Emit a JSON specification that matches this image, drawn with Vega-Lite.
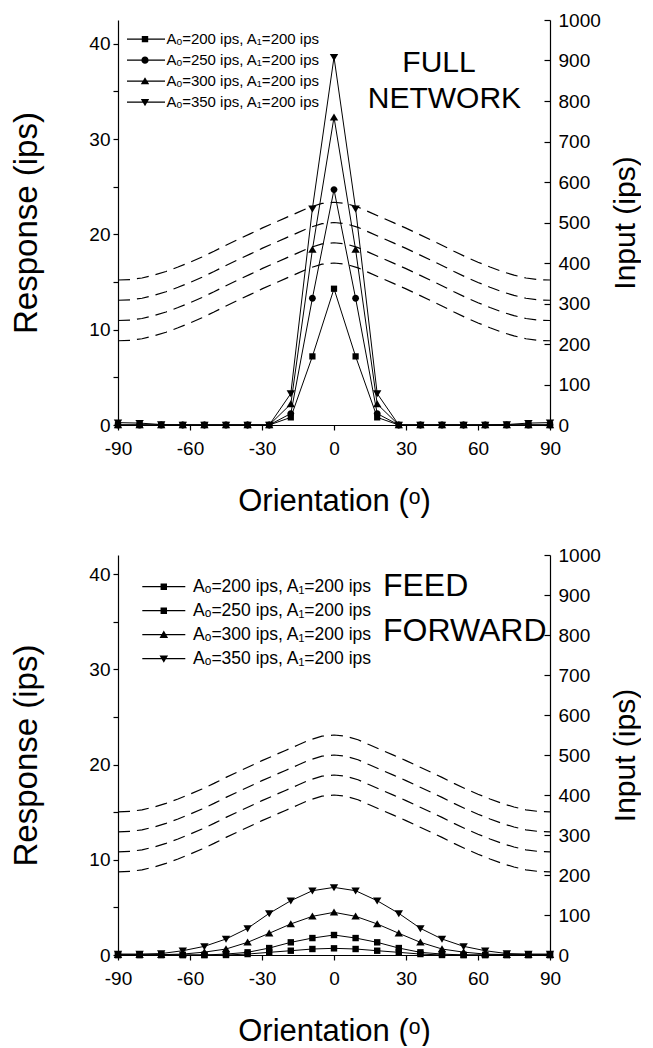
{
  "$schema": "https://vega.github.io/schema/vega-lite/v6.json",
  "padding": {"left": 10, "top": 11, "right": 0, "bottom": 0},
  "spacing": 30,
  "config": {
    "font": "Liberation Sans",
    "view": {"stroke": null},
    "axis": {"grid": false, "domainColor": "black", "tickColor": "black", "labelColor": "black", "titleColor": "black", "labelFont": "Liberation Sans", "titleFont": "Liberation Sans", "labelFontSize": 19, "titleFontSize": 31, "titleFontWeight": "normal", "domainWidth": 1.2, "tickWidth": 1.2, "labelFlush": false, "labelOverlap": false},
    "legend": {"labelFont": "Liberation Sans", "labelColor": "black", "labelLimit": 400}
  },
  "datasets": {
    "input": [
      {"t":-90,"s":"200","v":208},{"t":-85,"s":"200","v":209},{"t":-80,"s":"200","v":213},{"t":-75,"s":"200","v":220},{"t":-70,"s":"200","v":229},{"t":-65,"s":"200","v":240},{"t":-60,"s":"200","v":252},{"t":-55,"s":"200","v":265},{"t":-50,"s":"200","v":279},{"t":-45,"s":"200","v":294},{"t":-40,"s":"200","v":308},{"t":-35,"s":"200","v":322},{"t":-30,"s":"200","v":336},{"t":-25,"s":"200","v":349},{"t":-20,"s":"200","v":362},{"t":-15,"s":"200","v":375},{"t":-10,"s":"200","v":388},{"t":-5,"s":"200","v":397},{"t":0,"s":"200","v":400},{"t":5,"s":"200","v":397},{"t":10,"s":"200","v":388},{"t":15,"s":"200","v":375},{"t":20,"s":"200","v":362},{"t":25,"s":"200","v":349},{"t":30,"s":"200","v":336},{"t":35,"s":"200","v":322},{"t":40,"s":"200","v":308},{"t":45,"s":"200","v":294},{"t":50,"s":"200","v":279},{"t":55,"s":"200","v":265},{"t":60,"s":"200","v":252},{"t":65,"s":"200","v":240},{"t":70,"s":"200","v":229},{"t":75,"s":"200","v":220},{"t":80,"s":"200","v":213},{"t":85,"s":"200","v":209},{"t":90,"s":"200","v":208},
      {"t":-90,"s":"250","v":258},{"t":-85,"s":"250","v":259},{"t":-80,"s":"250","v":263},{"t":-75,"s":"250","v":270},{"t":-70,"s":"250","v":279},{"t":-65,"s":"250","v":290},{"t":-60,"s":"250","v":302},{"t":-55,"s":"250","v":315},{"t":-50,"s":"250","v":329},{"t":-45,"s":"250","v":344},{"t":-40,"s":"250","v":358},{"t":-35,"s":"250","v":372},{"t":-30,"s":"250","v":386},{"t":-25,"s":"250","v":399},{"t":-20,"s":"250","v":412},{"t":-15,"s":"250","v":425},{"t":-10,"s":"250","v":438},{"t":-5,"s":"250","v":447},{"t":0,"s":"250","v":450},{"t":5,"s":"250","v":447},{"t":10,"s":"250","v":438},{"t":15,"s":"250","v":425},{"t":20,"s":"250","v":412},{"t":25,"s":"250","v":399},{"t":30,"s":"250","v":386},{"t":35,"s":"250","v":372},{"t":40,"s":"250","v":358},{"t":45,"s":"250","v":344},{"t":50,"s":"250","v":329},{"t":55,"s":"250","v":315},{"t":60,"s":"250","v":302},{"t":65,"s":"250","v":290},{"t":70,"s":"250","v":279},{"t":75,"s":"250","v":270},{"t":80,"s":"250","v":263},{"t":85,"s":"250","v":259},{"t":90,"s":"250","v":258},
      {"t":-90,"s":"300","v":308},{"t":-85,"s":"300","v":309},{"t":-80,"s":"300","v":313},{"t":-75,"s":"300","v":320},{"t":-70,"s":"300","v":329},{"t":-65,"s":"300","v":340},{"t":-60,"s":"300","v":352},{"t":-55,"s":"300","v":365},{"t":-50,"s":"300","v":379},{"t":-45,"s":"300","v":394},{"t":-40,"s":"300","v":408},{"t":-35,"s":"300","v":422},{"t":-30,"s":"300","v":436},{"t":-25,"s":"300","v":449},{"t":-20,"s":"300","v":462},{"t":-15,"s":"300","v":475},{"t":-10,"s":"300","v":488},{"t":-5,"s":"300","v":497},{"t":0,"s":"300","v":500},{"t":5,"s":"300","v":497},{"t":10,"s":"300","v":488},{"t":15,"s":"300","v":475},{"t":20,"s":"300","v":462},{"t":25,"s":"300","v":449},{"t":30,"s":"300","v":436},{"t":35,"s":"300","v":422},{"t":40,"s":"300","v":408},{"t":45,"s":"300","v":394},{"t":50,"s":"300","v":379},{"t":55,"s":"300","v":365},{"t":60,"s":"300","v":352},{"t":65,"s":"300","v":340},{"t":70,"s":"300","v":329},{"t":75,"s":"300","v":320},{"t":80,"s":"300","v":313},{"t":85,"s":"300","v":309},{"t":90,"s":"300","v":308},
      {"t":-90,"s":"350","v":358},{"t":-85,"s":"350","v":359},{"t":-80,"s":"350","v":363},{"t":-75,"s":"350","v":370},{"t":-70,"s":"350","v":379},{"t":-65,"s":"350","v":390},{"t":-60,"s":"350","v":402},{"t":-55,"s":"350","v":415},{"t":-50,"s":"350","v":429},{"t":-45,"s":"350","v":444},{"t":-40,"s":"350","v":458},{"t":-35,"s":"350","v":472},{"t":-30,"s":"350","v":486},{"t":-25,"s":"350","v":499},{"t":-20,"s":"350","v":512},{"t":-15,"s":"350","v":525},{"t":-10,"s":"350","v":538},{"t":-5,"s":"350","v":547},{"t":0,"s":"350","v":550},{"t":5,"s":"350","v":547},{"t":10,"s":"350","v":538},{"t":15,"s":"350","v":525},{"t":20,"s":"350","v":512},{"t":25,"s":"350","v":499},{"t":30,"s":"350","v":486},{"t":35,"s":"350","v":472},{"t":40,"s":"350","v":458},{"t":45,"s":"350","v":444},{"t":50,"s":"350","v":429},{"t":55,"s":"350","v":415},{"t":60,"s":"350","v":402},{"t":65,"s":"350","v":390},{"t":70,"s":"350","v":379},{"t":75,"s":"350","v":370},{"t":80,"s":"350","v":363},{"t":85,"s":"350","v":359},{"t":90,"s":"350","v":358}
    ],
    "full": [
      {"t":-90,"s":"200","r":0},{"t":-81,"s":"200","r":0},{"t":-72,"s":"200","r":0},{"t":-63,"s":"200","r":0},{"t":-54,"s":"200","r":0},{"t":-45,"s":"200","r":0},{"t":-36,"s":"200","r":0},{"t":-27,"s":"200","r":0},{"t":-18,"s":"200","r":0.8},{"t":-9,"s":"200","r":7.2},{"t":0,"s":"200","r":14.3},{"t":9,"s":"200","r":7.2},{"t":18,"s":"200","r":0.8},{"t":27,"s":"200","r":0},{"t":36,"s":"200","r":0},{"t":45,"s":"200","r":0},{"t":54,"s":"200","r":0},{"t":63,"s":"200","r":0},{"t":72,"s":"200","r":0},{"t":81,"s":"200","r":0},{"t":90,"s":"200","r":0},
      {"t":-90,"s":"250","r":0},{"t":-81,"s":"250","r":0},{"t":-72,"s":"250","r":0},{"t":-63,"s":"250","r":0},{"t":-54,"s":"250","r":0},{"t":-45,"s":"250","r":0},{"t":-36,"s":"250","r":0},{"t":-27,"s":"250","r":0},{"t":-18,"s":"250","r":1.2},{"t":-9,"s":"250","r":13.3},{"t":0,"s":"250","r":24.7},{"t":9,"s":"250","r":13.3},{"t":18,"s":"250","r":1.2},{"t":27,"s":"250","r":0},{"t":36,"s":"250","r":0},{"t":45,"s":"250","r":0},{"t":54,"s":"250","r":0},{"t":63,"s":"250","r":0},{"t":72,"s":"250","r":0},{"t":81,"s":"250","r":0},{"t":90,"s":"250","r":0},
      {"t":-90,"s":"300","r":0},{"t":-81,"s":"300","r":0},{"t":-72,"s":"300","r":0},{"t":-63,"s":"300","r":0},{"t":-54,"s":"300","r":0},{"t":-45,"s":"300","r":0},{"t":-36,"s":"300","r":0},{"t":-27,"s":"300","r":0},{"t":-18,"s":"300","r":2.2},{"t":-9,"s":"300","r":18.4},{"t":0,"s":"300","r":32.3},{"t":9,"s":"300","r":18.4},{"t":18,"s":"300","r":2.2},{"t":27,"s":"300","r":0},{"t":36,"s":"300","r":0},{"t":45,"s":"300","r":0},{"t":54,"s":"300","r":0},{"t":63,"s":"300","r":0},{"t":72,"s":"300","r":0},{"t":81,"s":"300","r":0},{"t":90,"s":"300","r":0},
      {"t":-90,"s":"350","r":0.25},{"t":-81,"s":"350","r":0.2},{"t":-72,"s":"350","r":0.05},{"t":-63,"s":"350","r":0},{"t":-54,"s":"350","r":0},{"t":-45,"s":"350","r":0},{"t":-36,"s":"350","r":0},{"t":-27,"s":"350","r":0},{"t":-18,"s":"350","r":3.3},{"t":-9,"s":"350","r":22.7},{"t":0,"s":"350","r":38.6},{"t":9,"s":"350","r":22.7},{"t":18,"s":"350","r":3.3},{"t":27,"s":"350","r":0},{"t":36,"s":"350","r":0},{"t":45,"s":"350","r":0},{"t":54,"s":"350","r":0},{"t":63,"s":"350","r":0},{"t":72,"s":"350","r":0.05},{"t":81,"s":"350","r":0.2},{"t":90,"s":"350","r":0.25}
    ],
    "ff": [
      {"t":-90,"s":"200","r":0},{"t":-81,"s":"200","r":0},{"t":-72,"s":"200","r":0},{"t":-63,"s":"200","r":0},{"t":-54,"s":"200","r":0},{"t":-45,"s":"200","r":0},{"t":-36,"s":"200","r":0.1},{"t":-27,"s":"200","r":0.28},{"t":-18,"s":"200","r":0.45},{"t":-9,"s":"200","r":0.63},{"t":0,"s":"200","r":0.7},{"t":9,"s":"200","r":0.63},{"t":18,"s":"200","r":0.45},{"t":27,"s":"200","r":0.28},{"t":36,"s":"200","r":0.1},{"t":45,"s":"200","r":0},{"t":54,"s":"200","r":0},{"t":63,"s":"200","r":0},{"t":72,"s":"200","r":0},{"t":81,"s":"200","r":0},{"t":90,"s":"200","r":0},
      {"t":-90,"s":"250","r":0},{"t":-81,"s":"250","r":0},{"t":-72,"s":"250","r":0},{"t":-63,"s":"250","r":0},{"t":-54,"s":"250","r":0},{"t":-45,"s":"250","r":0.1},{"t":-36,"s":"250","r":0.28},{"t":-27,"s":"250","r":0.73},{"t":-18,"s":"250","r":1.33},{"t":-9,"s":"250","r":1.78},{"t":0,"s":"250","r":2.1},{"t":9,"s":"250","r":1.78},{"t":18,"s":"250","r":1.33},{"t":27,"s":"250","r":0.73},{"t":36,"s":"250","r":0.28},{"t":45,"s":"250","r":0.1},{"t":54,"s":"250","r":0},{"t":63,"s":"250","r":0},{"t":72,"s":"250","r":0},{"t":81,"s":"250","r":0},{"t":90,"s":"250","r":0},
      {"t":-90,"s":"300","r":0.03},{"t":-81,"s":"300","r":0.03},{"t":-72,"s":"300","r":0.03},{"t":-63,"s":"300","r":0.1},{"t":-54,"s":"300","r":0.3},{"t":-45,"s":"300","r":0.63},{"t":-36,"s":"300","r":1.33},{"t":-27,"s":"300","r":2.28},{"t":-18,"s":"300","r":3.26},{"t":-9,"s":"300","r":4.06},{"t":0,"s":"300","r":4.48},{"t":9,"s":"300","r":4.06},{"t":18,"s":"300","r":3.26},{"t":27,"s":"300","r":2.28},{"t":36,"s":"300","r":1.33},{"t":45,"s":"300","r":0.63},{"t":54,"s":"300","r":0.3},{"t":63,"s":"300","r":0.1},{"t":72,"s":"300","r":0.03},{"t":81,"s":"300","r":0.03},{"t":90,"s":"300","r":0.03},
      {"t":-90,"s":"350","r":0.1},{"t":-81,"s":"350","r":0.1},{"t":-72,"s":"350","r":0.15},{"t":-63,"s":"350","r":0.45},{"t":-54,"s":"350","r":0.91},{"t":-45,"s":"350","r":1.68},{"t":-36,"s":"350","r":2.8},{"t":-27,"s":"350","r":4.37},{"t":-18,"s":"350","r":5.7},{"t":-9,"s":"350","r":6.75},{"t":0,"s":"350","r":7.1},{"t":9,"s":"350","r":6.75},{"t":18,"s":"350","r":5.7},{"t":27,"s":"350","r":4.37},{"t":36,"s":"350","r":2.8},{"t":45,"s":"350","r":1.68},{"t":54,"s":"350","r":0.91},{"t":63,"s":"350","r":0.45},{"t":72,"s":"350","r":0.15},{"t":81,"s":"350","r":0.1},{"t":90,"s":"350","r":0.1}
    ]
  },
  "vconcat": [
    {
      "width": 432,
      "height": 405,
      "layer": [
        {
          "data": {"name": "input"},
          "mark": {"type": "line", "color": "black", "strokeWidth": 1.2, "strokeDash": [12, 7]},
          "encoding": {
            "x": {"field": "t", "type": "quantitative", "scale": {"domain": [-90, 90], "nice": false}, "axis": {"values": [-90, -60, -30, 0, 30, 60, 90], "labelExpr": "'' + datum.value", "tickSize": 5, "labelPadding": 9, "title": "Orientation (ᵒ)", "titlePadding": 28}},
            "y": {"field": "v", "type": "quantitative", "scale": {"domain": [0, 1000], "nice": false}, "axis": {"orient": "right", "values": [0, 100, 200, 300, 400, 500, 600, 700, 800, 900, 1000], "format": "d", "tickSize": -6, "labelPadding": 14, "title": "Input (ips)", "titleFontSize": 30, "titleAngle": 270, "titleBaseline": "top", "titlePadding": 10}},
            "detail": {"field": "s"}
          }
        },
        {
          "data": {"name": "full"},
          "mark": {"type": "line", "color": "black", "strokeWidth": 1},
          "encoding": {
            "x": {"field": "t", "type": "quantitative", "title": "Orientation (ᵒ)", "scale": {"domain": [-90, 90], "nice": false}},
            "y": {"field": "r", "type": "quantitative", "scale": {"domain": [0, 42.5], "nice": false, "zero": false}, "axis": {"orient": "left", "values": [0, 5, 10, 15, 20, 25, 30, 35, 40], "labelExpr": "datum.value % 10 == 0 ? datum.label : ''", "tickSize": 5, "labelPadding": 3, "title": "Response (ips)", "titleFontSize": 33, "titlePadding": 45}},
            "detail": {"field": "s"}
          }
        },
        {
          "data": {"name": "full"},
          "mark": {"type": "point", "filled": true, "color": "black", "opacity": 1, "size": 64},
          "encoding": {
            "x": {"field": "t", "type": "quantitative", "title": "Orientation (ᵒ)", "scale": {"domain": [-90, 90], "nice": false}},
            "y": {"field": "r", "type": "quantitative", "scale": {"domain": [0, 42.5], "nice": false, "zero": false}, "axis": null},
            "shape": {"field": "s", "type": "nominal", "scale": {"domain": ["200", "250", "300", "350"], "range": ["M-0.78,-0.78H0.78V0.78H-0.78Z", "M-0.85,0A0.85,0.85,0,1,1,0.85,0A0.85,0.85,0,1,1,-0.85,0Z", "M0,-0.95L1.05,0.8L-1.05,0.8Z", "M0,0.95L-1.05,-0.8L1.05,-0.8Z"]}, "legend": null}
          }
        },
        {
          "data": {"name": "full"},
          "mark": {"type": "point", "filled": true, "color": "black", "opacity": 0},
          "encoding": {
            "x": {"field": "t", "type": "quantitative", "title": "Orientation (ᵒ)", "scale": {"domain": [-90, 90], "nice": false}},
            "y": {"field": "r", "type": "quantitative", "scale": {"domain": [0, 42.5], "nice": false, "zero": false}, "axis": null},
            "shape": {"field": "s", "type": "nominal", "scale": {"domain": ["200", "250", "300", "350"], "range": ["M-1,-0.027H1V0.027H-1ZM-0.16,-0.16H0.16V0.16H-0.16Z", "M-1,-0.027H1V0.027H-1ZM-0.18,0A0.18,0.18,0,1,1,0.18,0A0.18,0.18,0,1,1,-0.18,0Z", "M-1,-0.027H1V0.027H-1ZM0,-0.2L0.21,0.16L-0.21,0.16Z", "M-1,-0.027H1V0.027H-1ZM0,0.2L-0.21,-0.16L0.21,-0.16Z"]},
              "legend": {"title": null, "orient": "top-left", "offset": 8.5, "padding": 0, "clipHeight": 20.3, "rowPadding": 0, "symbolSize": 1600, "symbolStrokeWidth": 0, "symbolOpacity": 1, "symbolFillColor": "black", "symbolOffset": -2, "labelOffset": 1.5, "labelFontSize": 15, "labelExpr": "'Aₒ=' + datum.label + ' ips, A₁=200 ips'"}}
          }
        },
        {
          "data": {"values": [{"label": "FULL"}]},
          "mark": {"type": "text", "fontSize": 30, "align": "center", "baseline": "alphabetic", "color": "black"},
          "encoding": {"x": {"datum": 43.75, "type": "quantitative"}, "y": {"datum": 37.0, "type": "quantitative", "scale": {"domain": [0, 42.5], "nice": false, "zero": false}, "axis": null}, "text": {"field": "label"}}
        },
        {
          "data": {"values": [{"label": "NETWORK"}]},
          "mark": {"type": "text", "fontSize": 30, "align": "center", "baseline": "alphabetic", "color": "black"},
          "encoding": {"x": {"datum": 46, "type": "quantitative"}, "y": {"datum": 33.3, "type": "quantitative", "scale": {"domain": [0, 42.5], "nice": false, "zero": false}, "axis": null}, "text": {"field": "label"}}
        }
      ],
      "resolve": {"scale": {"y": "independent", "shape": "independent"}}
    },
    {
      "width": 432,
      "height": 400,
      "layer": [
        {
          "data": {"name": "input"},
          "mark": {"type": "line", "color": "black", "strokeWidth": 1.2, "strokeDash": [12, 7]},
          "encoding": {
            "x": {"field": "t", "type": "quantitative", "scale": {"domain": [-90, 90], "nice": false}, "axis": {"values": [-90, -60, -30, 0, 30, 60, 90], "labelExpr": "'' + datum.value", "tickSize": 5, "labelPadding": 9, "title": "Orientation (ᵒ)", "titlePadding": 28}},
            "y": {"field": "v", "type": "quantitative", "scale": {"domain": [0, 1000], "nice": false}, "axis": {"orient": "right", "values": [0, 100, 200, 300, 400, 500, 600, 700, 800, 900, 1000], "format": "d", "tickSize": -6, "labelPadding": 14, "title": "Input (ips)", "titleFontSize": 30, "titleAngle": 270, "titleBaseline": "top", "titlePadding": 10}},
            "detail": {"field": "s"}
          }
        },
        {
          "data": {"name": "ff"},
          "mark": {"type": "line", "color": "black", "strokeWidth": 1},
          "encoding": {
            "x": {"field": "t", "type": "quantitative", "title": "Orientation (ᵒ)", "scale": {"domain": [-90, 90], "nice": false}},
            "y": {"field": "r", "type": "quantitative", "scale": {"domain": [0, 42], "nice": false, "zero": false}, "axis": {"orient": "left", "values": [0, 5, 10, 15, 20, 25, 30, 35, 40], "labelExpr": "datum.value % 10 == 0 ? datum.label : ''", "tickSize": 5, "labelPadding": 3, "title": "Response (ips)", "titleFontSize": 33, "titlePadding": 45}},
            "detail": {"field": "s"}
          }
        },
        {
          "data": {"name": "ff"},
          "mark": {"type": "point", "filled": true, "color": "black", "opacity": 1, "size": 64},
          "encoding": {
            "x": {"field": "t", "type": "quantitative", "title": "Orientation (ᵒ)", "scale": {"domain": [-90, 90], "nice": false}},
            "y": {"field": "r", "type": "quantitative", "scale": {"domain": [0, 42], "nice": false, "zero": false}, "axis": null},
            "shape": {"field": "s", "type": "nominal", "scale": {"domain": ["200", "250", "300", "350"], "range": ["M-0.8,-0.8H0.8V0.8H-0.8Z", "M-0.8,-0.8H0.8V0.8H-0.8Z", "M0,-0.95L1.05,0.8L-1.05,0.8Z", "M0,0.95L-1.05,-0.8L1.05,-0.8Z"]}, "legend": null}
          }
        },
        {
          "data": {"name": "ff"},
          "mark": {"type": "point", "filled": true, "color": "black", "opacity": 0},
          "encoding": {
            "x": {"field": "t", "type": "quantitative", "title": "Orientation (ᵒ)", "scale": {"domain": [-90, 90], "nice": false}},
            "y": {"field": "r", "type": "quantitative", "scale": {"domain": [0, 42], "nice": false, "zero": false}, "axis": null},
            "shape": {"field": "s", "type": "nominal", "scale": {"domain": ["200", "250", "300", "350"], "range": ["M-1,-0.025H1V0.025H-1ZM-0.15,-0.15H0.15V0.15H-0.15Z", "M-1,-0.025H1V0.025H-1ZM-0.151,-0.15H0.15V0.15H-0.15Z", "M-1,-0.025H1V0.025H-1ZM0,-0.19L0.2,0.15L-0.2,0.15Z", "M-1,-0.025H1V0.025H-1ZM0,0.19L-0.2,-0.15L0.2,-0.15Z"]},
              "legend": {"title": null, "orient": "top-left", "offset": 19.5, "padding": 0, "clipHeight": 23.3, "rowPadding": 0, "symbolSize": 1849, "symbolStrokeWidth": 0, "symbolOpacity": 1, "symbolFillColor": "black", "symbolOffset": 4.3, "labelOffset": 7.8, "labelFontSize": 17.5, "labelExpr": "'Aₒ=' + datum.label + ' ips, A₁=200 ips'"}}
          }
        },
        {
          "data": {"values": [{"label": "FEED"}]},
          "mark": {"type": "text", "fontSize": 32, "align": "left", "baseline": "alphabetic", "color": "black"},
          "encoding": {"x": {"datum": 20.4, "type": "quantitative"}, "y": {"datum": 37.7, "type": "quantitative", "scale": {"domain": [0, 42], "nice": false, "zero": false}, "axis": null}, "text": {"field": "label"}}
        },
        {
          "data": {"values": [{"label": "FORWARD"}]},
          "mark": {"type": "text", "fontSize": 32, "align": "left", "baseline": "alphabetic", "color": "black"},
          "encoding": {"x": {"datum": 20.4, "type": "quantitative"}, "y": {"datum": 33.0, "type": "quantitative", "scale": {"domain": [0, 42], "nice": false, "zero": false}, "axis": null}, "text": {"field": "label"}}
        }
      ],
      "resolve": {"scale": {"y": "independent", "shape": "independent"}}
    }
  ],
  "resolve": {"scale": {"shape": "independent"}, "legend": {"shape": "independent"}}
}
